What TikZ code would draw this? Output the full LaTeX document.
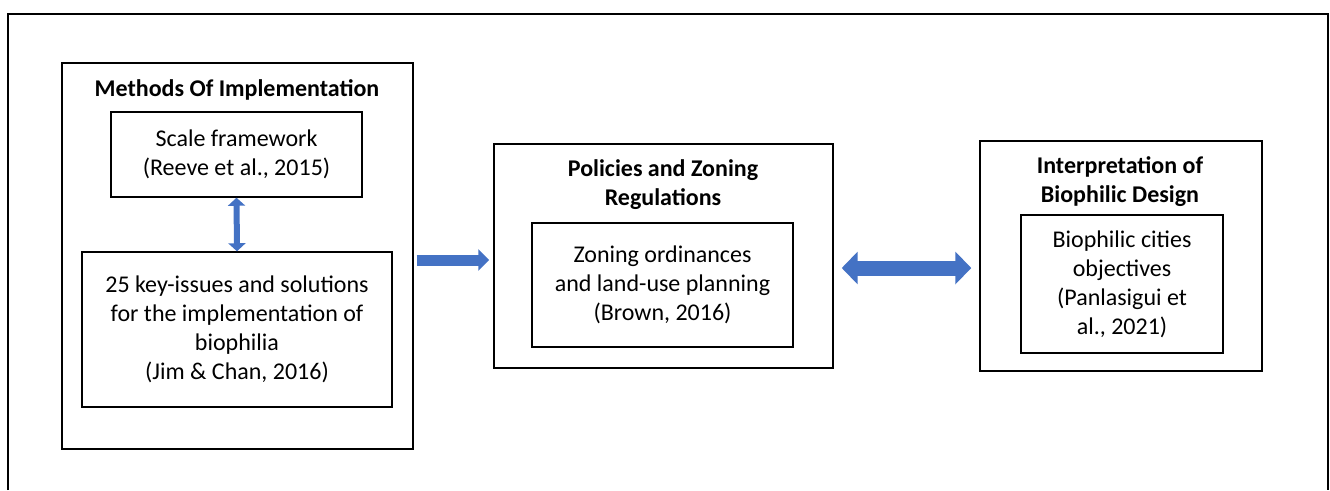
\documentclass[tikz,border=0pt]{standalone}
\usepackage{fontspec}
\setmainfont{Carlito}
\usepackage{tikz}
\usetikzlibrary{arrows.meta}
\definecolor{arrowblue}{HTML}{4472C4}

\begin{document}
\begin{tikzpicture}[x=0.75pt,y=-0.75pt,every node/.style={font=\fontsize{18pt}{21.75pt}\selectfont,inner sep=0pt},box/.style={draw,line width=1.1pt},title/.style={font=\fontsize{18pt}{21.75pt}\selectfont\bfseries,align=center},blockarrow/.style={draw=arrowblue,color=arrowblue}]
  \useasboundingbox (0,0) rectangle (1330,490);
  \draw[line width=1.1pt] (8,490) -- (8,14) -- (1328,14) -- (1328,490);
  %left
  \node[box,minimum width=263.25pt,minimum height=289.5pt] (meth) at (237.5,256) {};
  \node[title] (methT) at (237,90) {Methods Of Implementation};
  \node[box,align=center,minimum width=188.25pt,minimum height=63.75pt] (scale) at (236.5,154.5) {Scale framework\\(Reeve et al., 2015)};
  \node[box,align=center,minimum width=232.5pt,minimum height=116.25pt] (key) at (237,329.5) {25 key-issues and solutions\\for the implementation of\\biophilia\\(Jim \& Chan, 2016)};
  \draw[blockarrow,line width=4.5pt,{Triangle[length=6pt,width=12.75pt]}-{Triangle[length=6pt,width=12.75pt]}] (scale.south) -- (key.north);

  %middle
  \node[box,minimum width=254.25pt,minimum height=168pt] (pol) at (663.5,256) {};
  \node[title] (polT) at (663,184.5) {Policies and Zoning\\Regulations};
  \node[box,align=center,minimum width=195.75pt,minimum height=93pt] (zon) at (662.5,285) {Zoning ordinances\\and land-use planning\\(Brown, 2016)};
  \draw[blockarrow,line width=8.25pt,-{Triangle[length=8.25pt,width=15.75pt]}] ([shift={(3,4)}]meth.east) -- ([shift={(-4,4)}]pol.west);

  %right
  \node[box,minimum width=211.5pt,minimum height=172.5pt] (interp) at (1121,256) {};
  \node[title] (interpT) at (1120,182) {Interpretation of\\Biophilic Design};
  \node[box,align=center,minimum width=151.5pt,minimum height=103.5pt] (bio) at (1122,284) {Biophilic cities\\objectives\\(Panlasigui et\\al., 2021)};
  \draw[blockarrow,line width=11.25pt,{Triangle[length=12pt,width=24pt]}-{Triangle[length=12pt,width=24pt]}] ([shift={(8,12)}]pol.east) -- ([shift={(-8,12)}]interp.west);
\end{tikzpicture}
\end{document}
